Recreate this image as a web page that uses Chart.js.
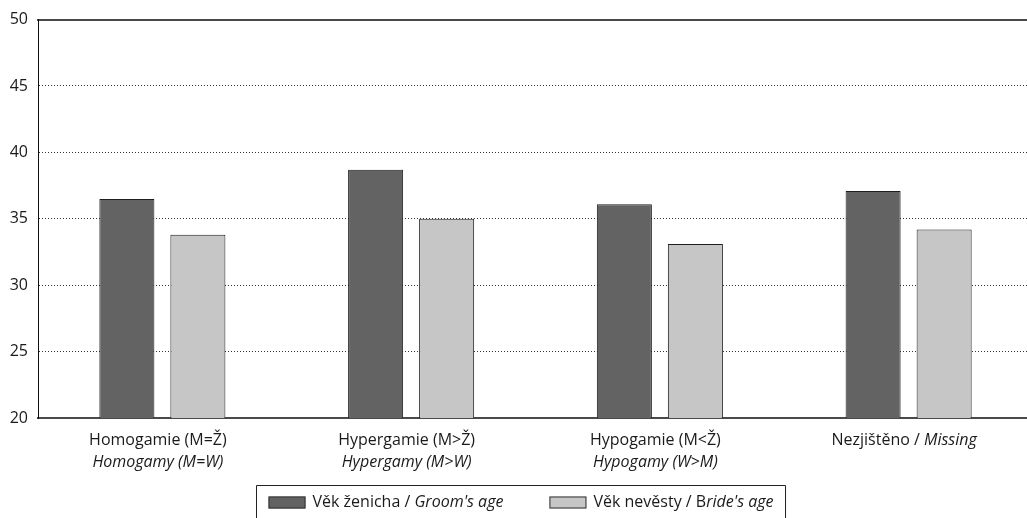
<html>
<head>
    <title>Věk snoubenců</title>
    <script src="https://cdn.jsdelivr.net/npm/chart.js"></script>
    <style>
        html, body { margin: 0; padding: 0; background: #fff; }
        #wrap { width: 1027px; height: 518px; overflow: hidden; }
    </style>
</head>
<body>
<div id="wrap">
    <!-- the plot runs a little past the right edge of the picture, so the canvas is wider than the frame -->
    <canvas id="graph" width="1033" height="518" role="img"></canvas>
</div>
<script>
    // categories: each label is a list of lines, each line a list of [text, italic]
    const categories = ['Homogamie', 'Hypergamie', 'Hypogamie', 'Nezjištěno'];
    const categoryLabels = [
        [[['Homogamie (M=Ž)', false]], [['Homogamy (M=W)', true]]],
        [[['Hypergamie (M>Ž)', false]], [['Hypergamy (M>W)', true]]],
        [[['Hypogamie (M<Ž)', false]], [['Hypogamy (W>M)', true]]],
        [[['Nezjištěno / ', false], ['Missing', true]]]
    ];
    const groomAge = [36.5, 38.7, 36.1, 37.1];
    const brideAge = [33.8, 35.0, 33.1, 34.2];
    const groomLabel = [['Věk ženicha / ', false], ["Groom's age", true]];
    const brideLabel = [['Věk nevěsty / B', false], ["ride's age", true]];
    const yTicks = [20, 25, 30, 35, 40, 45, 50];

    const fontFamily = '"Open Sans", "Noto Sans", sans-serif';
    const textColor = '#1a1a1a';

    function font(italic) {
        return (italic ? 'italic ' : '') + '16px ' + fontFamily;
    }
    function seg_width(ctx, segs) {
        let w = 0;
        segs.forEach(function (s) { ctx.font = font(s[1]); w += ctx.measureText(s[0]).width; });
        return w;
    }
    function draw_segs(ctx, segs, x, y) {
        segs.forEach(function (s) {
            ctx.font = font(s[1]);
            ctx.fillText(s[0], x, y);
            x += ctx.measureText(s[0]).width;
        });
        return x;
    }

    // category labels under the x axis (mixed upright / italic text)
    const xLabelPlugin = {
        id: 'xLabels',
        afterDraw(chart) {
            const ctx = chart.ctx;
            const xs = chart.scales.x;
            ctx.save();
            ctx.fillStyle = textColor;
            ctx.textBaseline = 'middle';
            ctx.textAlign = 'left';
            categoryLabels.forEach(function (lines, i) {
                const cx = xs.getPixelForValue(i) - 4.5;
                lines.forEach(function (segs, j) {
                    const w = seg_width(ctx, segs);
                    draw_segs(ctx, segs, cx - w / 2, chart.chartArea.bottom + 22 + j * 22);
                });
            });
            ctx.restore();
        }
    };

    // boxed legend at the bottom
    const legendPlugin = {
        id: 'boxLegend',
        afterDraw(chart) {
            const ctx = chart.ctx;
            const items = chart.data.datasets.map(function (ds, i) {
                return {fill: ds.backgroundColor, segs: i === 0 ? groomLabel : brideLabel};
            });
            ctx.save();
            const pad = 12, sw = 37, gapText = 7, gapItem = 46;
            let total = pad * 2;
            items.forEach(function (it, i) {
                it.w = seg_width(ctx, it.segs);
                total += sw + gapText + it.w + (i > 0 ? gapItem : 0);
            });
            const left = Math.round(520.5 - total / 2) + 0.5;
            const top = 485.5;
            ctx.strokeStyle = '#222';
            ctx.lineWidth = 1;
            ctx.beginPath();
            ctx.moveTo(left, chart.height + 2);
            ctx.lineTo(left, top);
            ctx.lineTo(left + total, top);
            ctx.lineTo(left + total, chart.height + 2);
            ctx.stroke();
            let x = left + pad;
            const cy = 502.5;
            ctx.textBaseline = 'middle';
            ctx.textAlign = 'left';
            items.forEach(function (it, i) {
                if (i > 0) x += gapItem;
                ctx.fillStyle = it.fill;
                ctx.fillRect(x, cy - 6, sw, 12);
                ctx.strokeStyle = '#333';
                ctx.strokeRect(x + 0.5, cy - 5.5, sw - 1, 11);
                x += sw + gapText;
                ctx.fillStyle = textColor;
                x = draw_segs(ctx, it.segs, x, cy);
            });
            ctx.restore();
        }
    };

    const data = {
        labels: categories,
        datasets: [{
            label: 'Věk ženicha / Groom\'s age',
            backgroundColor: '#636363',
            borderColor: '#1e1e1e',
            borderWidth: 1,
            data: groomAge,
            categoryPercentage: 0.571,
            barPercentage: 0.775
        }, {
            label: 'Věk nevěsty / Bride\'s age',
            backgroundColor: '#c6c6c6',
            borderColor: '#1e1e1e',
            borderWidth: 1,
            data: brideAge,
            categoryPercentage: 0.571,
            barPercentage: 0.775
        }]
    };

    const config = {
        type: 'bar',
        data: data,
        options: {
            responsive: false,
            animation: false,
            layout: {padding: {top: 19, bottom: 100, left: 0, right: 0}},
            plugins: {
                legend: {display: false},
                tooltip: {enabled: false}
            },
            scales: {
                x: {
                    ticks: {display: false},
                    grid: {display: false, drawTicks: false},
                    border: {display: true, color: '#4a4a4a', width: 2},
                    afterFit: function (scale) { scale.height = 0; }
                },
                xTop: {
                    position: 'top',
                    labels: categories,
                    ticks: {display: false},
                    grid: {display: false, drawTicks: false},
                    border: {display: true, color: '#4a4a4a', width: 2},
                    afterFit: function (scale) { scale.height = 0; }
                },
                y: {
                    min: yTicks[0],
                    max: yTicks[yTicks.length - 1],
                    afterBuildTicks: function (scale) {
                        scale.ticks = yTicks.map(function (v) { return {value: v}; });
                    },
                    ticks: {
                        color: textColor,
                        padding: 10,
                        font: {family: fontFamily, size: 16}
                    },
                    grid: {color: '#333', lineWidth: 1, drawTicks: false},
                    border: {display: true, color: '#111', width: 1, dash: [1, 2]},
                    afterFit: function (scale) { scale.width = 38; }
                }
            }
        },
        plugins: [xLabelPlugin, legendPlugin]
    };

    const myChart = new Chart(document.getElementById('graph'), config);
</script>
</body>
</html>
